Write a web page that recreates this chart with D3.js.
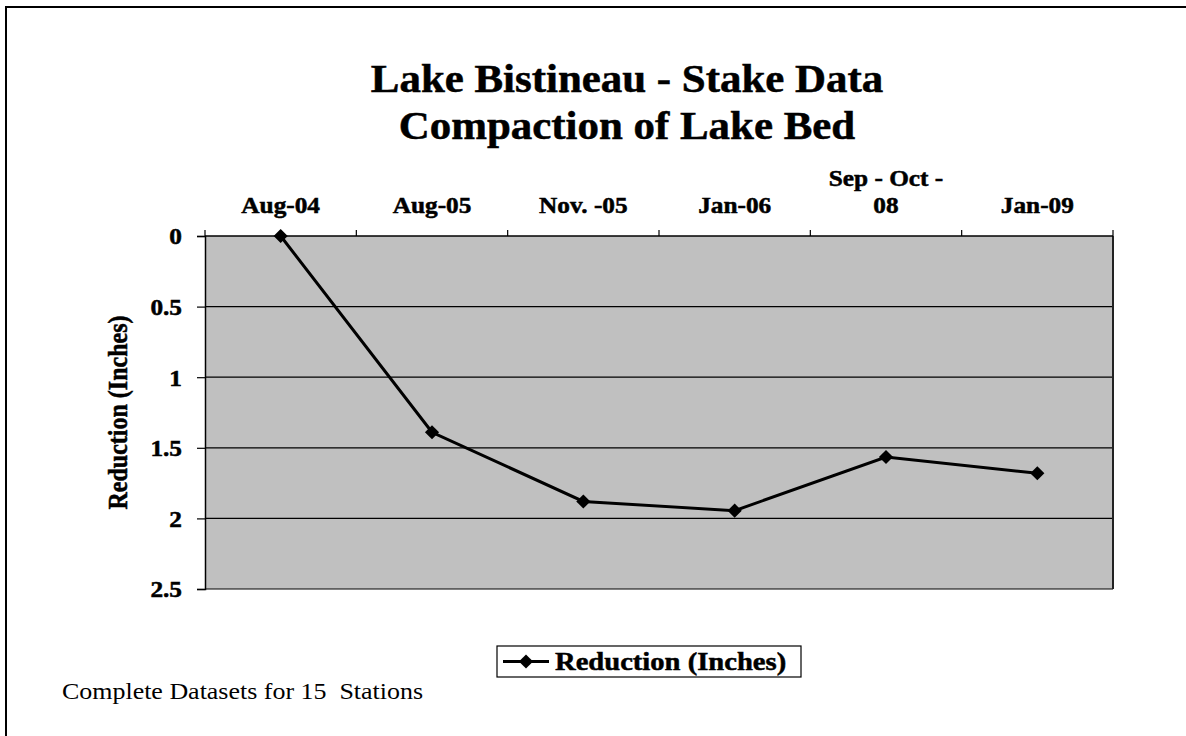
<!DOCTYPE html>
<html>
<head>
<meta charset="utf-8">
<script src="https://cdn.jsdelivr.net/npm/d3@7"></script>
<style>
  body { margin: 0; background: #fff; }
  text { font-family: "Liberation Serif", "Times New Roman", serif; }
  .heavy { stroke: #000; stroke-width: 0.5px; }
</style>
</head>
<body>
<div id="chart"></div>
<script>
// categories and values
var categories = ["Aug-04", "Aug-05", "Nov. -05", "Jan-06", "Sep - Oct -\n08", "Jan-09"];
var reduction = [0, 1.39, 1.88, 1.945, 1.565, 1.68];
var yTicks = [0, 0.5, 1, 1.5, 2, 2.5];

var data = categories.map((c, i) => ({ cat: c, value: reduction[i] }));

var width = 1186, height = 736;
var sx = 1.1; // the original picture is a bit stretched horizontally

var svg = d3.select("#chart").append("svg")
    .attr("width", width)
    .attr("height", height);

// outer frame (runs off the right and bottom edges)
svg.append("rect")
    .attr("x", 6).attr("y", 7)
    .attr("width", width + 10).attr("height", height + 10)
    .attr("fill", "none")
    .attr("stroke", "#000")
    .attr("stroke-width", 2);

// plot area
var plot = { left: 205, top: 236, right: 1113, bottom: 589 };

var x = d3.scaleBand()
    .domain(categories)
    .range([plot.left, plot.right])
    .padding(0);

var y = d3.scaleLinear()
    .domain([0, 2.5])
    .range([plot.top, plot.bottom]);

svg.append("rect")
    .attr("x", plot.left).attr("y", plot.top)
    .attr("width", plot.right - plot.left)
    .attr("height", plot.bottom - plot.top)
    .attr("fill", "#c0c0c0");

// gridlines
svg.selectAll(".grid")
    .data(yTicks.slice(1))
    .enter().append("line")
    .attr("class", "grid")
    .attr("x1", plot.left).attr("x2", plot.right)
    .attr("y1", d => y(d)).attr("y2", d => y(d))
    .attr("stroke", "#000")
    .attr("stroke-width", 1.2);

// right border
svg.append("line")
    .attr("x1", plot.right).attr("x2", plot.right)
    .attr("y1", plot.top).attr("y2", plot.bottom)
    .attr("stroke", "#222")
    .attr("stroke-width", 2);

// y axis (reversed, 0 on top)
var yAxis = svg.append("g")
    .attr("transform", "translate(" + plot.left + ",0)")
    .call(d3.axisLeft(y)
        .tickValues(yTicks)
        .tickSize(8)
        .tickPadding(0)
        .tickFormat(d3.format("~g")));
yAxis.select(".domain").attr("stroke", "#000").attr("stroke-width", 1.5);
yAxis.selectAll(".tick line").attr("stroke", "#000").attr("stroke-width", 1.2);
yAxis.selectAll(".tick text")
    .attr("class", "heavy")
    .attr("fill", "#000")
    .attr("x", 0)
    .style("font-size", "23px")
    .style("font-weight", "bold")
    .attr("dy", "0.34em")
    .attr("transform", "translate(-23,0) scale(" + sx + ",1)");

// x axis on top, ticks between categories
var xAxis = svg.append("g")
    .attr("transform", "translate(0," + plot.top + ")");
xAxis.append("line")
    .attr("x1", plot.left).attr("x2", plot.right)
    .attr("y1", 0).attr("y2", 0)
    .attr("stroke", "#000").attr("stroke-width", 1.5);
xAxis.selectAll(".xtick")
    .data(categories.map(c => x(c)).concat([plot.right]))
    .enter().append("line")
    .attr("class", "xtick")
    .attr("x1", d => d).attr("x2", d => d)
    .attr("y1", 0).attr("y2", -6)
    .attr("stroke", "#000").attr("stroke-width", 1.2);

var xLabels = xAxis.selectAll(".xlabel")
    .data(categories)
    .enter().append("text")
    .attr("class", "xlabel heavy")
    .attr("transform", d => "translate(" + (x(d) + x.bandwidth() / 2) + ",-23) scale(" + sx + ",1)")
    .attr("text-anchor", "middle")
    .style("font-size", "23px")
    .style("font-weight", "bold");
xLabels.each(function(d) {
    var lines = d.split("\n");
    var t = d3.select(this);
    lines.forEach((l, i) => {
        t.append("tspan")
            .attr("x", 0)
            .attr("y", (i - lines.length + 1) * 27)
            .text(l);
    });
});

// line and markers
var line = d3.line()
    .x(d => x(d.cat) + x.bandwidth() / 2)
    .y(d => y(d.value));

svg.append("path")
    .datum(data)
    .attr("d", line)
    .attr("fill", "none")
    .attr("stroke", "#000")
    .attr("stroke-width", 3);

var diamond = d3.symbol().type(d3.symbolSquare).size(100);
svg.selectAll(".marker")
    .data(data)
    .enter().append("path")
    .attr("class", "marker")
    .attr("d", diamond)
    .attr("transform", d => "translate(" + (x(d.cat) + x.bandwidth() / 2) + "," + y(d.value) + ") rotate(45)")
    .attr("fill", "#000");

// title
var title = svg.append("text")
    .attr("class", "heavy")
    .attr("transform", "translate(627,0) scale(" + sx + ",1)")
    .attr("text-anchor", "middle")
    .style("font-size", "39px")
    .style("font-weight", "bold");
title.append("tspan").attr("x", 0).attr("y", 92).text("Lake Bistineau - Stake Data");
title.append("tspan").attr("x", 0).attr("y", 139).text("Compaction of Lake Bed");

// y axis title
svg.append("text")
    .attr("class", "heavy")
    .attr("transform", "translate(127," + ((plot.top + plot.bottom) / 2) + ") rotate(-90) scale(1," + sx + ")")
    .attr("text-anchor", "middle")
    .style("font-size", "24px")
    .style("font-weight", "bold")
    .text("Reduction (Inches)");

// legend
var legend = svg.append("g").attr("transform", "translate(497,646)");
legend.append("rect")
    .attr("width", 304).attr("height", 31)
    .attr("fill", "#fff")
    .attr("stroke", "#000")
    .attr("stroke-width", 1.2);
legend.append("line")
    .attr("x1", 6).attr("x2", 52)
    .attr("y1", 15.5).attr("y2", 15.5)
    .attr("stroke", "#000").attr("stroke-width", 3);
legend.append("path")
    .attr("d", diamond)
    .attr("transform", "translate(29,15.5) rotate(45)")
    .attr("fill", "#000");
legend.append("text")
    .attr("class", "heavy")
    .attr("transform", "translate(58,24) scale(" + sx + ",1)")
    .style("font-size", "26px")
    .style("font-weight", "bold")
    .text("Reduction (Inches)");

// footnote
svg.append("text")
    .attr("transform", "translate(62,699) scale(" + sx + ",1)")
    .style("font-size", "23.6px")
    .style("white-space", "pre")
    .attr("xml:space", "preserve")
    .text("Complete Datasets for 15  Stations");
</script>
</body>
</html>
